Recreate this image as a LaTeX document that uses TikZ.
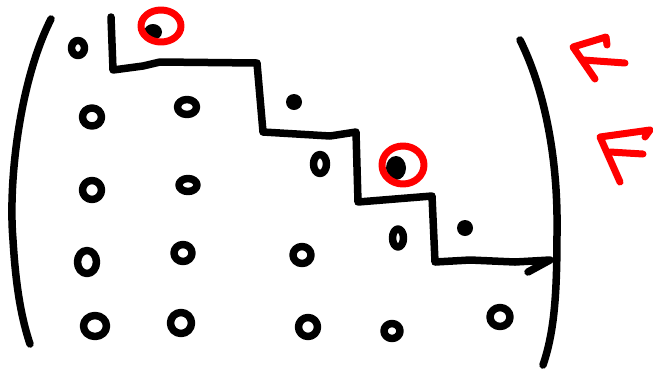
\documentclass[tikz,border=0pt]{standalone}
\begin{document}
\begin{tikzpicture}[x=1pt,y=-1pt,
  ink/.style={line width=7.5pt,line cap=round,line join=round,black},
  redink/.style={line width=7pt,line cap=round,line join=round,red},
  zero/.style={ink},
  dot/.style={fill=black}]
\useasboundingbox (0,0) rectangle (653,376);
% parentheses
\draw[ink] (51,19) .. controls (20,80) and (8,180) .. (13,240) .. controls (16,290) and (22,320) .. (30,344);
\draw[ink] (520,40) .. controls (545,90) and (558,160) .. (557,230) .. controls (557,290) and (555,330) .. (543,365);
% staircase
\draw[ink] (111,17) -- (113,70) -- (143,66) -- (160,62) -- (257,63) -- (263,132) -- (330,136) -- (356,132) -- (358,202) -- (432,196) -- (435,262) -- (470,260) -- (515,262) -- (550,260) -- (528,272);
% first row
\draw[zero] (78,48) ellipse (6.5 and 7.5);
\fill[dot] (153,32) ellipse (9 and 8);
\draw[redink] (161,26) ellipse (20 and 16);
% second row
\draw[zero] (92,117) ellipse (9.5 and 9);
\draw[zero] (187,107) ellipse (9.5 and 7.5);
\fill[dot] (294,102) ellipse (8 and 8);
% third row
\draw[zero] (92,190) ellipse (9.5 and 9.5);
\draw[zero] (188,185) ellipse (9 and 6.5);
\draw[zero] (320,164) ellipse (6.5 and 9.5);
\fill[dot] (396,168) ellipse (10 and 12);
\draw[redink] (403,165) ellipse (21 and 19);
% fourth row
\draw[zero] (87,262) ellipse (9.5 and 11.5);
\draw[zero] (183,253) ellipse (9 and 8.5);
\draw[zero] (302,255) ellipse (9 and 8.5);
\draw[zero] (398,238) ellipse (5.5 and 9);
\fill[dot] (465,228) ellipse (8 and 8);
% fifth row
\draw[zero] (95,326) ellipse (11.5 and 10.5);
\draw[zero] (181,323) ellipse (10.5 and 10.5);
\draw[zero] (308,327) ellipse (9.5 and 9.5);
\draw[zero] (392,331) ellipse (8 and 7.5);
\draw[zero] (500,317) ellipse (10 and 9.5);
% red F marks
\draw[redink] (607,45) -- (606,37) -- (573,47) -- (595,79);
\draw[redink] (583,60) -- (625,63);
\draw[redink] (645,137) -- (650,130) -- (600,137) -- (620,182);
\draw[redink] (610,152) -- (643,154);
\end{tikzpicture}
\end{document}
